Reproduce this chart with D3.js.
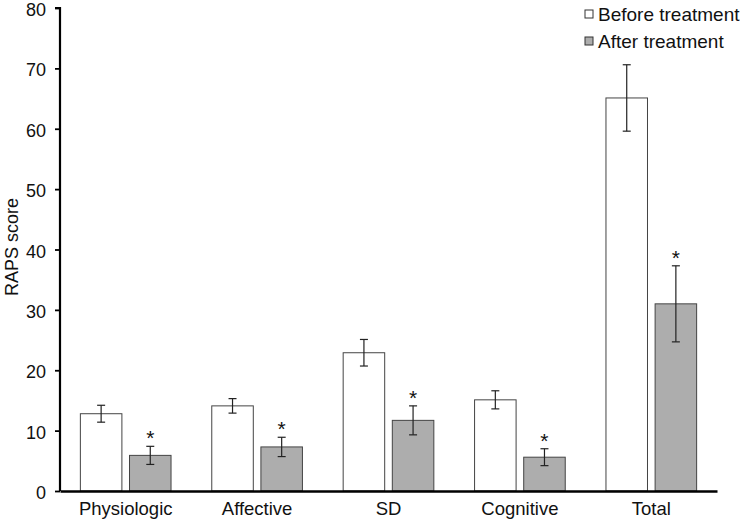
<!DOCTYPE html>
<html>
<head>
<meta charset="utf-8">
<script src="https://cdn.jsdelivr.net/npm/d3@7"></script>
<style>
  body { margin: 0; background: #fff; }
  text { font-family: "Liberation Sans", Arial, sans-serif; fill: #111; }
</style>
</head>
<body>
<div id="chart"></div>
<script>
// data
const categories = ['Physiologic', 'Affective', 'SD', 'Cognitive', 'Total'];
const seriesNames = ['Before treatment', 'After treatment'];
const beforeValues = [12.8, 14.1, 22.9, 15.1, 65.1];
const beforeErrors = [1.4, 1.2, 2.2, 1.5, 5.5];
const afterValues = [5.9, 7.3, 11.7, 5.6, 31.0];
const afterErrors = [1.5, 1.6, 2.4, 1.4, 6.3];
const yTicks = [0, 10, 20, 30, 40, 50, 60, 70, 80];

const W = 746, H = 522;
const MARGIN = { TOP: 8, BOTTOM: 31, LEFT: 60, RIGHT: 29 };
const WIDTH = W - MARGIN.LEFT - MARGIN.RIGHT;
const HEIGHT = H - MARGIN.TOP - MARGIN.BOTTOM;
const COLORS = ['#ffffff', '#adadad'];
const FONT = '"Liberation Sans", Arial, sans-serif';

const svg = d3.select('#chart')
  .append('svg')
  .attr('width', W)
  .attr('height', H)
  .append('g')
  .attr('transform', `translate(${MARGIN.LEFT}, ${MARGIN.TOP})`);

const y = d3.scaleLinear()
  .domain([0, 80])
  .range([HEIGHT, 0]);

const x = d3.scaleBand()
  .domain(categories)
  .range([0, WIDTH])
  .paddingInner(0.31)
  .paddingOuter(0.155);

const x1 = d3.scaleBand()
  .domain(seriesNames)
  .range([0, x.bandwidth()])
  .paddingInner(0.155);

const rows = categories.map((c, i) => ({
  cat: c,
  bars: [
    { s: seriesNames[0], v: beforeValues[i], e: beforeErrors[i], star: false },
    { s: seriesNames[1], v: afterValues[i], e: afterErrors[i], star: true }
  ]
}));

const groups = svg.selectAll('g.grp')
  .data(rows)
  .enter().append('g')
  .attr('class', 'grp')
  .attr('transform', d => `translate(${x(d.cat)}, 0)`);

const bars = groups.selectAll('g.bar')
  .data(d => d.bars)
  .enter().append('g')
  .attr('class', 'bar');

bars.append('rect')
  .attr('x', d => x1(d.s))
  .attr('y', d => y(d.v))
  .attr('width', x1.bandwidth())
  .attr('height', d => HEIGHT - y(d.v))
  .attr('fill', (d, i) => COLORS[i])
  .attr('stroke', '#444')
  .attr('stroke-width', 1);

// error bars
const cx = d => x1(d.s) + x1.bandwidth() / 2;
bars.append('line')
  .attr('x1', cx).attr('x2', cx)
  .attr('y1', d => y(d.v + d.e))
  .attr('y2', d => y(d.v - d.e))
  .attr('stroke', '#222').attr('stroke-width', 1.2);
bars.append('line')
  .attr('x1', d => cx(d) - 4).attr('x2', d => cx(d) + 4)
  .attr('y1', d => y(d.v + d.e)).attr('y2', d => y(d.v + d.e))
  .attr('stroke', '#222').attr('stroke-width', 1.2);
bars.append('line')
  .attr('x1', d => cx(d) - 4).attr('x2', d => cx(d) + 4)
  .attr('y1', d => y(d.v - d.e)).attr('y2', d => y(d.v - d.e))
  .attr('stroke', '#222').attr('stroke-width', 1.2);

bars.filter(d => d.star)
  .append('text')
  .attr('x', cx)
  .attr('y', d => y(d.v + d.e) - 1)
  .attr('text-anchor', 'middle')
  .attr('font-size', 21)
  .text('*');

// axes
const yAxis = svg.append('g')
  .call(d3.axisLeft(y).tickValues(yTicks).tickSize(5).tickPadding(9));
yAxis.select('.domain').attr('stroke', '#000').attr('stroke-width', 2.2)
  .attr('d', `M0,${HEIGHT}V0H-5`);
yAxis.selectAll('.tick line').attr('stroke', '#000').attr('stroke-width', 1.8);
yAxis.selectAll('.tick text').attr('font-size', 18)
  .attr('dy', '0.42em')
  .attr('font-family', FONT).attr('fill', '#111');

const xAxis = svg.append('g')
  .attr('transform', `translate(0, ${HEIGHT})`)
  .call(d3.axisBottom(x).tickSize(0).tickPadding(11));
xAxis.select('.domain').attr('stroke', '#000').attr('stroke-width', 2.6);
xAxis.selectAll('.tick text').attr('font-size', 18.5)
  .attr('font-family', FONT).attr('fill', '#111');

svg.append('text')
  .attr('transform', 'rotate(-90)')
  .attr('x', -239)
  .attr('y', -42)
  .attr('text-anchor', 'middle')
  .attr('font-size', 18)
  .text('RAPS score');

// legend
const legend = svg.append('g')
  .attr('transform', `translate(${WIDTH - 132}, 0)`);
seriesNames.forEach((n, i) => {
  const row = legend.append('g').attr('transform', `translate(0, ${6 + i * 27})`);
  row.append('rect')
    .attr('x', 0).attr('y', -4).attr('width', 8).attr('height', 8)
    .attr('fill', COLORS[i]).attr('stroke', '#333').attr('stroke-width', 1);
  row.append('text')
    .attr('x', 13).attr('y', 0)
    .attr('dy', '0.35em')
    .attr('font-size', 19)
    .text(n);
});
</script>
</body>
</html>
